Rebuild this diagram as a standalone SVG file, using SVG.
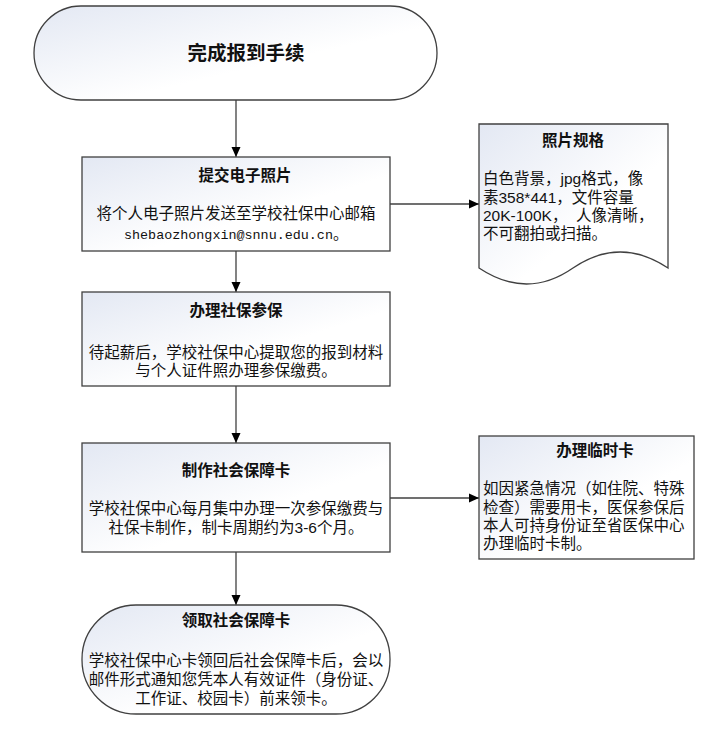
<svg xmlns="http://www.w3.org/2000/svg" width="718" height="738" viewBox="0 0 718 738">
<defs>
<linearGradient id="fill" x1="0" y1="0" x2="1" y2="1">
<stop offset="0" stop-color="#e3e8f3"/>
<stop offset="0.6" stop-color="#ffffff"/>
<stop offset="1" stop-color="#ffffff"/>
</linearGradient>
<marker id="arr" viewBox="0 0 10 10" refX="10" refY="5" markerWidth="10" markerHeight="10" markerUnits="userSpaceOnUse" orient="auto">
<path d="M0,0.5 L10,5 L0,9.5 Z" fill="#000"/>
</marker>
</defs>
<style>
.shape{fill:url(#fill);stroke:#404040;stroke-width:1.3}
.conn{stroke:#404040;stroke-width:1.3;fill:none;marker-end:url(#arr)}
text{font-family:"Liberation Sans","Noto Sans CJK SC","Noto Sans CJK TC",sans-serif;fill:#111}
.t{font-size:15.5px;font-weight:bold;text-anchor:middle}
.b{font-size:15.5px;text-anchor:middle}
.l{font-size:15.5px;white-space:pre}
.m{font-family:"Liberation Mono","Noto Sans CJK SC",monospace;font-size:13.4px;text-anchor:middle}
</style>
<rect width="718" height="738" fill="#ffffff"/>
<g id="connectors">
<line class="conn" x1="236" y1="100" x2="236" y2="157"/>
<line class="conn" x1="236" y1="251" x2="236" y2="292"/>
<line class="conn" x1="236" y1="386" x2="236" y2="443"/>
<line class="conn" x1="236" y1="552" x2="236" y2="605"/>
<line class="conn" x1="390" y1="204" x2="479" y2="204"/>
<line class="conn" x1="390" y1="498" x2="479" y2="498"/>
</g>
<g id="start">
<rect class="shape" x="34" y="6" width="403" height="94" rx="47" ry="47"/>
<text x="246" y="60" style="font-size:19.5px;font-weight:bold;text-anchor:middle">完成报到手续</text>
</g>
<g id="photo">
<rect class="shape" x="82" y="157" width="308" height="94"/>
<text class="t" x="245" y="181">提交电子照片</text>
<text class="b" x="236" y="219">将个人电子照片发送至学校社保中心邮箱</text>
<text class="m" x="236" y="239">shebaozhongxin@snnu.edu.cn<tspan style="font-size:15px">。</tspan></text>
</g>
<g id="spec">
<path class="shape" d="M479,124 H668 V268 Q620,236 573,268 Q527,300 479,268 Z"/>
<text class="t" x="573" y="146">照片规格</text>
<text class="l" x="483" y="184">白色背景，jpg格式，像</text>
<text class="l" x="483" y="203">素358*441，文件容量</text>
<text class="l" x="483" y="221">20K-100K，  人像清晰，</text>
<text class="l" x="483" y="239">不可翻拍或扫描。</text>
</g>
<g id="insure">
<rect class="shape" x="82" y="292" width="308" height="94"/>
<text class="t" x="236" y="316">办理社保参保</text>
<text class="b" x="236" y="358">待起薪后，学校社保中心提取您的报到材料</text>
<text class="b" x="236" y="376">与个人证件照办理参保缴费。</text>
</g>
<g id="make">
<rect class="shape" x="82" y="443" width="308" height="109"/>
<text class="t" x="236" y="476">制作社会保障卡</text>
<text class="b" x="236" y="514">学校社保中心每月集中办理一次参保缴费与</text>
<text class="b" x="236" y="533">社保卡制作，制卡周期约为3-6个月。</text>
</g>
<g id="temp">
<rect class="shape" x="479" y="436" width="215" height="123"/>
<text class="t" x="595" y="456">办理临时卡</text>
<text class="l" x="483" y="494">如因紧急情况（如住院、特殊</text>
<text class="l" x="483" y="513">检查）需要用卡，医保参保后</text>
<text class="l" x="483" y="531">本人可持身份证至省医保中心</text>
<text class="l" x="483" y="549">办理临时卡制。</text>
</g>
<g id="collect">
<rect class="shape" x="82" y="605" width="308" height="109" rx="54" ry="54"/>
<text class="t" x="236" y="626">领取社会保障卡</text>
<text class="b" x="236" y="666">学校社保中心卡领回后社会保障卡后，会以</text>
<text class="b" x="236" y="685">邮件形式通知您凭本人有效证件（身份证、</text>
<text class="b" x="236" y="704">工作证、校园卡）前来领卡。</text>
</g>
</svg>
